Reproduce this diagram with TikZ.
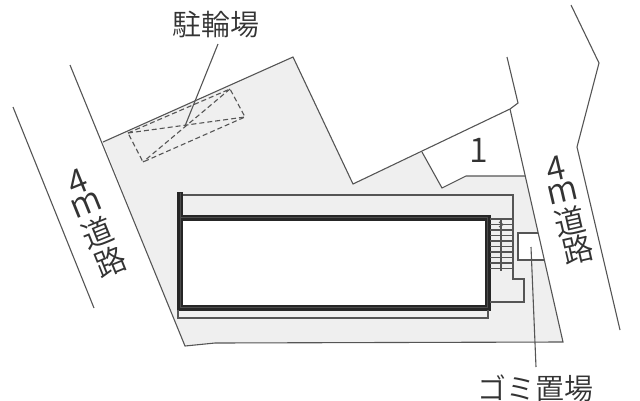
\documentclass[tikz,border=0pt]{standalone}
\usepackage{fontspec}
\newfontfamily\cjk{Noto Sans CJK JP DemiLight}
\definecolor{lotgray}{HTML}{EFEFEF}
\definecolor{linegray}{HTML}{555555}
\tikzset{
  plan/.style={draw=linegray, line width=1.1pt},
  dashbox/.style={draw=linegray, line width=1.1pt, dashed, dash pattern=on 5pt off 3pt},
  label/.style={text=black!80, inner sep=0pt, font=\cjk\fontsize{29}{29}\selectfont},
  roadlabel/.style={label, font=\cjk\fontsize{31}{31}\selectfont},
  biglabel/.style={label, font=\cjk\fontsize{34}{34}\selectfont},
}
\begin{document}
\begin{tikzpicture}[x=1pt,y=-1pt]
\useasboundingbox (0,0) rectangle (640,400);
\fill[lotgray] (103,142) -- (293,57) -- (353,184) -- (422,152) -- (442,188) -- (466,176) -- (525,176) -- (563,342) -- (215,343) -- (185,346) -- cycle; % lot
\fill[white] (518,233) -- (538,233) -- (544,260) -- (518,260) -- cycle; % refuse area
\draw[plan] (70,65) -- (185,346) -- (215,343) -- (563,342) -- (510,109); % lot outline and right road edge
\draw[plan] (103,142) -- (293,57) -- (353,184) -- (510,109) -- (518,103) -- (507,57); % rear boundary
\draw[plan] (422,152) -- (442,188) -- (466,176) -- (525,176); % lot 1
\draw[plan] (571,5) -- (599,63) -- (577,147) -- (620,330); % right road far side
\draw[plan] (13,107) -- (94,308); % left road far side
\draw[dashbox] (128,133) -- (230,89) -- (245,117) -- (143,162) -- cycle; % bicycle parking
\draw[dashbox] (128,133) -- (245,117) (230,89) -- (143,162); % bicycle parking cross
\draw[plan] (218,44) -- (185,126); % bicycle leader
\fill[white] (180,218) rectangle (488,308); % building
\draw[black!85, line width=6pt] (180,192) -- (180,307.5) -- (487.5,307.5) -- (487.5,217.5) -- (180,217.5); % building wall
\draw[black!70, line width=1pt] (180,193) -- (180,307.5) -- (487.5,307.5) -- (487.5,217.5) -- (180,217.5); % wall core
\draw[plan] (183,195) -- (513,195) -- (513,279) -- (524,279) -- (524,302) -- (490,302); % walkway
\draw[plan] (178,310) -- (178,318) -- (488,318) -- (488,310); % front edge
\foreach \y in {219,224.5,...,273} \draw[plan] (490,\y) -- (513,\y); % stairs
\draw[plan] (501,219) -- (501,271); % stair centre
\draw[plan] (499,222) -- (503,224.5) -- (499,227); % stair arrow
\draw[plan] (538,233) -- (518,233) -- (518,260) -- (544,260); % refuse box
\draw[plan] (531,247) -- (536,367); % refuse leader
\node[label] (bike) at (216,24) {駐輪場};
\node[label] (refuse) at (535,388) {ゴミ置場};
\node[biglabel] (lotone) at (479,150) {1};
\node[biglabel, rotate=22] (leftfour) at (78,182) {4};
\node[biglabel, rotate=22] (leftm) at (86,205) {m};
\node[roadlabel, rotate=22] (leftdo) at (97,233) {道};
\node[roadlabel, rotate=22] (leftro) at (110,262) {路};
\node[biglabel, rotate=13] (rightfour) at (556,169) {4};
\node[biglabel, rotate=13] (rightm) at (563,193) {m};
\node[roadlabel, rotate=13] (rightdo) at (570,221) {道};
\node[roadlabel, rotate=13] (rightro) at (578,249) {路};
\end{tikzpicture}
\end{document}
